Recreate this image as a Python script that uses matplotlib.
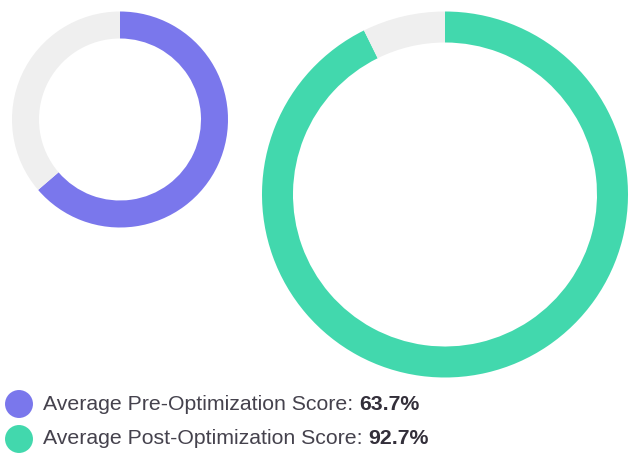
import matplotlib
matplotlib.use("Agg")
import matplotlib.pyplot as plt

# data
labels = ["Average Pre-Optimization Score", "Average Post-Optimization Score"]
scores = [63.7, 92.7]
colors = ["#7a77ec", "#42d8ad"]
rest_color = "#efefef"

plt.rcParams['font.family'] = ['Liberation Sans', 'DejaVu Sans']

W, H = 629, 453
fig = plt.figure(figsize=(W / 100, H / 100), dpi=100)
ax = fig.add_axes([0, 0, 1, 1])

# donuts (pixel coords, y measured from bottom)
centers = [(120, H - 119.5), (445, H - 194.5)]
radii = [108, 183]
widths = [27, 31]

for s, c, ctr, r, w in zip(scores, colors, centers, radii, widths):
    ax.pie([s, 100 - s], colors=[c, rest_color], startangle=90, counterclock=False,
           center=ctr, radius=r, frame=True,
           wedgeprops=dict(width=w, linewidth=0))

ax.set_xlim(0, W)
ax.set_ylim(0, H)
ax.set_aspect('equal')
ax.axis('off')

# legend
fig.canvas.draw()
renderer = fig.canvas.get_renderer()
rows_y = [H - 404, H - 439]
for lab, s, c, y in zip(labels, scores, colors, rows_y):
    ax.scatter([19], [y], s=405, color=c, edgecolors='none')
    t = ax.text(43, y, lab + ": ", fontsize=15.3, color="#45424d", va='center', ha='left')
    bb = t.get_window_extent(renderer=renderer)
    ax.text(bb.x1, y, f"{s}%", fontsize=15.3, color="#332f3a", fontweight='bold',
            va='center', ha='left')

fig.savefig("out.png", dpi=100)
